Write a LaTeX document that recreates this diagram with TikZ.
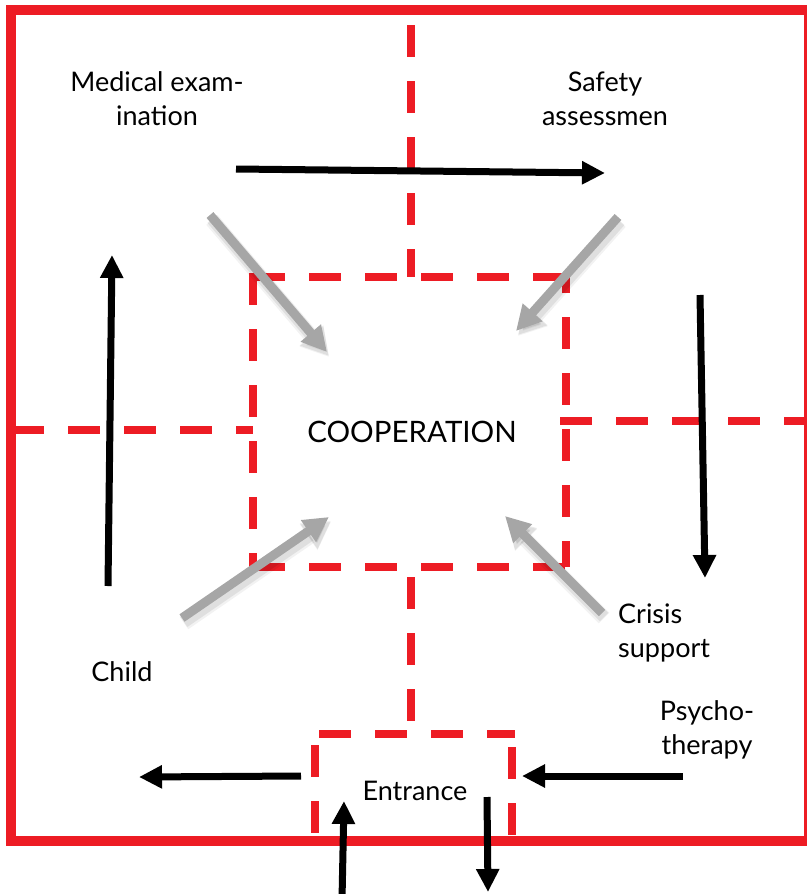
\documentclass[tikz,border=0pt]{standalone}
\usepackage{fontspec}
\setmainfont{Lato}
\usetikzlibrary{arrows.meta}
\definecolor{rd}{RGB}{237,28,36}
\definecolor{gr}{RGB}{166,166,166}
\begin{document}
\begin{tikzpicture}[x=1pt,y=-1pt,
  frame/.style={draw=rd,line width=10pt},
  rdash/.style={draw=rd,line width=8pt,dash pattern=on 32pt off 24pt},
  blk/.style={draw=black,line width=7pt,-{Triangle[length=23pt,width=22pt]}},
  gry/.style={draw=gr,line width=9pt,-{Triangle[length=25pt,width=25pt]}},
  gsh/.style={draw=black,opacity=0.08,line width=12pt,-{Triangle[length=27pt,width=29pt]}},
  lbl/.style={inner sep=0pt,align=center,font=\fontsize{27}{34}\selectfont}
]
\useasboundingbox (0,0) rectangle (806,894);
% outer frame
\draw[frame] (11,10) rectangle (809,841);
% dashed red lines
\draw[rdash] (411,25) -- (411,277);
\draw[rdash] (253,277) -- (566,277);
\draw[rdash,dash phase=16] (566,277) -- (566,567);
\draw[rdash] (253,567) -- (566,567);
\draw[rdash] (253,273) -- (253,567);
\draw[rdash] (12,430) -- (253,430);
\draw[rdash] (560,421) -- (806,421);
\draw[rdash,dash phase=46] (411,567) -- (411,734);
\draw[rdash,dash phase=52] (315,734) -- (515,734);
\draw[rdash,dash phase=45] (315,734) -- (315,840);
\draw[rdash,dash phase=43] (512,734) -- (512,840);
% coordinates
\coordinate (a1s) at (236,169); \coordinate (a1e) at (605,173);
\coordinate (a2s) at (108,586); \coordinate (a2e) at (112,255);
\coordinate (a3s) at (700,295); \coordinate (a3e) at (705,578);
\coordinate (a4s) at (301,776); \coordinate (a4e) at (139,777);
\coordinate (a5s) at (683,776); \coordinate (a5e) at (522,776);
\coordinate (a6s) at (342,900); \coordinate (a6e) at (344,801);
\coordinate (a7s) at (487,797); \coordinate (a7e) at (488,892);
\coordinate (g1s) at (210,215); \coordinate (g1e) at (327,352);
\coordinate (g2s) at (618,217); \coordinate (g2e) at (516,331);
\coordinate (g3s) at (182,618); \coordinate (g3e) at (329,517);
\coordinate (g4s) at (602,613); \coordinate (g4e) at (505,516);
% gray arrows with soft shadow
\foreach \g in {g1,g2,g3,g4}{
  \draw[gsh] ([shift={(2,4)}]\g s) -- ([shift={(2,4)}]\g e);
  \draw[gsh,line width=15pt,opacity=0.05] ([shift={(2,5)}]\g s) -- ([shift={(2,5)}]\g e);
}
\foreach \g in {g1,g2,g3,g4}{
  \draw[gry] (\g s) -- (\g e);
}
% black arrows
\foreach \a in {a1,a2,a3,a4,a5,a6,a7}{
  \draw[blk] (\a s) -- (\a e);
}
% labels
\node[lbl] (med) at (157,99) {Medical exam-\\ination};
\node[lbl] (saf) at (605,99) {Safety\\assessmen};
\node[lbl,font=\fontsize{29.5}{34}\selectfont] (coop) at (412,432) {COOPERATION};
\node[lbl] (child) at (122,672) {Child};
\node[lbl,align=left,anchor=west] (crisis) at (618,633) {Crisis\\support};
\node[lbl] (psy) at (707,730) {Psycho-\\therapy};
\node[lbl] (ent) at (415,791) {Entrance};
\end{tikzpicture}
\end{document}
